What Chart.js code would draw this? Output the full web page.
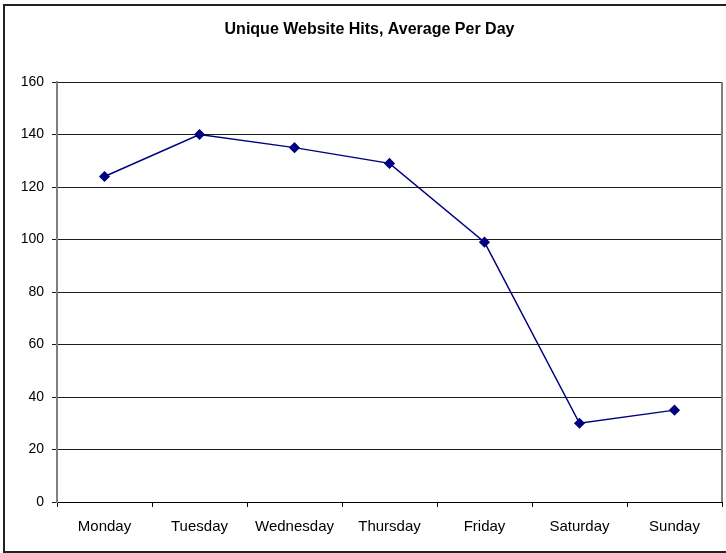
<!DOCTYPE html>
<html>
<head>
<meta charset="utf-8">
<script src="https://cdn.jsdelivr.net/npm/chart.js@4"></script>
<style>
  html, body { margin: 0; padding: 0; background: #fff; }
  canvas { display: block; }
</style>
</head>
<body>
<canvas id="c" width="726" height="553"></canvas>
<script>
const categories = ['Monday', 'Tuesday', 'Wednesday', 'Thursday', 'Friday', 'Saturday', 'Sunday'];
const hits = [124, 140, 135, 129, 99, 30, 35];
const yMin = 0;
const yMax = 160;
const yStep = 20;
const chartTitle = 'Unique Website Hits, Average Per Day';

const FONT = "'Liberation Sans', Arial, sans-serif";

const framePlugin = {
  id: 'frame',
  beforeDraw(chart) {
    const ctx = chart.ctx;
    ctx.save();
    ctx.fillStyle = '#ffffff';
    ctx.fillRect(0, 0, chart.width, chart.height);
    ctx.restore();
  },
  afterDraw(chart) {
    const ctx = chart.ctx;
    const a = chart.chartArea;
    ctx.save();
    // plot area right border
    ctx.strokeStyle = '#808080';
    ctx.lineWidth = 2;
    ctx.beginPath();
    ctx.moveTo(a.right, a.top);
    ctx.lineTo(a.right, a.bottom);
    ctx.stroke();
    // outer chart border
    ctx.strokeStyle = '#222222';
    ctx.lineWidth = 2;
    ctx.strokeRect(4, 5, chart.width + 10, 547);
    ctx.restore();
  }
};

new Chart(document.getElementById('c'), {
  type: 'line',
  data: {
    labels: categories,
    datasets: [{
      data: hits,
      borderColor: '#000080',
      backgroundColor: '#000080',
      borderWidth: 1.5,
      pointStyle: 'rectRot',
      pointRadius: 4.5,
      pointBackgroundColor: '#000080',
      pointBorderColor: '#000080',
      tension: 0,
      fill: false
    }]
  },
  options: {
    responsive: false,
    animation: false,
    layout: { autoPadding: false, padding: { left: 17, right: 4, top: 0, bottom: 6 } },
    plugins: {
      legend: { display: false },
      tooltip: { enabled: false },
      title: {
        display: true,
        text: chartTitle,
        color: '#000',
        font: { family: FONT, size: 16, weight: 'bold' },
        padding: { top: 20, bottom: 42.8 }
      }
    },
    scales: {
      x: {
        offset: true,
        afterFit(scale) { scale.paddingLeft = 0; scale.paddingRight = 0; },
        grid: {
          offset: true,
          drawOnChartArea: false,
          drawTicks: true,
          tickLength: 5,
          color: '#000'
        },
        border: { display: true, color: '#000', width: 1 },
        ticks: {
          color: '#000',
          font: { family: FONT, size: 15 },
          padding: 11,
          maxRotation: 0,
          autoSkip: false
        }
      },
      y: {
        min: yMin,
        max: yMax,
        afterFit(scale) { scale.width = 40; },
        grid: {
          color: '#1a1a1a',
          lineWidth: 1,
          drawTicks: true,
          tickLength: 5
        },
        border: { display: true, color: '#808080', width: 2 },
        ticks: {
          stepSize: yStep,
          color: '#000',
          font: { family: FONT, size: 14 },
          padding: 8
        }
      }
    }
  },
  plugins: [framePlugin]
});
</script>
</body>
</html>
